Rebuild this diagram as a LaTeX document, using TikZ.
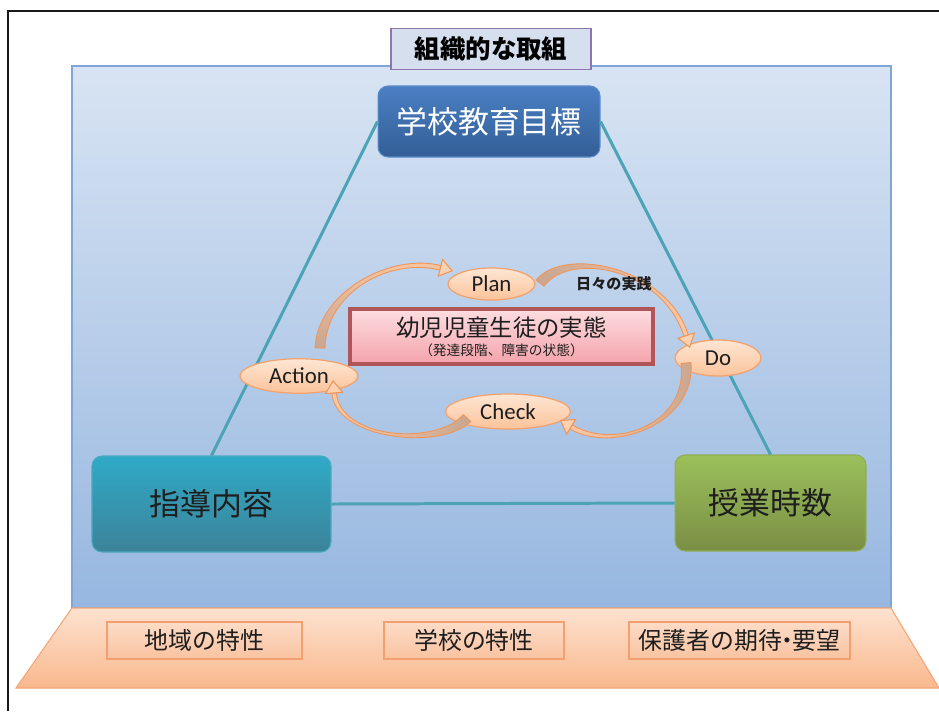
\documentclass[tikz,border=0pt]{standalone}
\usepackage{fontspec}
\setmainfont{Carlito}
\newfontfamily\jp{Noto Sans CJK JP}
\usetikzlibrary{arrows.meta,shapes.geometric,calc}
\definecolor{bgtop}{HTML}{D8E4F3}
\definecolor{bgbot}{HTML}{97B7E0}
\definecolor{bgedge}{HTML}{7FA6D6}
\definecolor{titlefill}{HTML}{D5DFEE}
\definecolor{titleedge}{HTML}{8E75AE}
\definecolor{goaltop}{HTML}{4A80C4}
\definecolor{goalbot}{HTML}{335E96}
\definecolor{goaledge}{HTML}{5A8AC8}
\definecolor{conttop}{HTML}{2FAAC7}
\definecolor{contbot}{HTML}{3C8399}
\definecolor{contedge}{HTML}{4AA9C0}
\definecolor{hourtop}{HTML}{9BC05A}
\definecolor{hourbot}{HTML}{7A8E45}
\definecolor{houredge}{HTML}{8FAE55}
\definecolor{linkcol}{HTML}{4BA3B5}
\definecolor{realedge}{HTML}{B05658}
\definecolor{realtop}{HTML}{FDDDE0}
\definecolor{realbot}{HTML}{F4A3AB}
\definecolor{phasetop}{HTML}{FEE6D4}
\definecolor{phasebot}{HTML}{FBC39A}
\definecolor{phaseedge}{HTML}{F2A26E}
\definecolor{traptop}{HTML}{FDE2D0}
\definecolor{trapbot}{HTML}{F9B88D}
\definecolor{trapedge}{HTML}{F4A676}
\definecolor{baseboxtop}{HTML}{FDDCC7}
\definecolor{baseboxbot}{HTML}{F9C3A0}
\definecolor{baseboxedge}{HTML}{F2A070}
\definecolor{arrowtan}{HTML}{C9A690}
\definecolor{arrowlight}{HTML}{FBC8A3}
\definecolor{arrowedge}{HTML}{F0955A}
\definecolor{arrowhead}{HTML}{FDD2B3}
\definecolor{darktext}{HTML}{1E1E1E}
% #1 start, #2 control 1, #3 control 2, #4 tip, #5 shading options
\newcommand{\cyclearrow}[5]{%
  \coordinate (Eb) at ($(#4)!0.26cm!(#3)$);
  \shade[#5, draw=arrowedge, line width=0.5pt]
    ($(#1)!0.1cm!90:(#2)$) .. controls ($(#2)!0.08cm!-90:(#1)$) and ($(#3)!0.05cm!90:(#4)$) .. ($(Eb)!0.045cm!90:(#4)$)
    -- ($(Eb)!0.045cm!-90:(#4)$) .. controls ($(#3)!0.05cm!-90:(#4)$) and ($(#2)!0.08cm!90:(#1)$) .. ($(#1)!0.1cm!-90:(#2)$) -- cycle;
  \draw[draw=arrowhead, line width=0.3pt,
    -{Triangle[length=0.27cm,width=0.38cm,line width=0.6pt,color=arrowedge,fill=arrowhead]}]
    ($(Eb)!0.1cm!(#4)$) -- (#4);}
\begin{document}
\begin{tikzpicture}[x=0.02cm,y=-0.02cm,
  bigbox/.style={rounded corners=0.2cm, line width=0.6pt, font=\jp\fontsize{17.6pt}{20pt}\selectfont, inner sep=0pt},
  phase/.style={ellipse, draw=phaseedge, line width=0.7pt, top color=phasetop, bottom color=phasebot, inner sep=0pt, text=darktext, font=\fontsize{13pt}{15pt}\selectfont},
  basebox/.style={draw=baseboxedge, line width=0.7pt, top color=baseboxtop, bottom color=baseboxbot, minimum height=0.74cm, inner sep=0pt, text=darktext, font=\jp\fontsize{13.6pt}{16pt}\selectfont},
  link/.style={draw=linkcol, line width=1.7pt},
  frameline/.style={draw=black!90, line width=1.2pt}]
\useasboundingbox (0,0) rectangle (939,711);
\fill[white] (0,0) rectangle (939,711);
% background panel
\shade[top color=bgtop, bottom color=bgbot] (72,66) rectangle (891,608);
\draw[draw=bgedge, line width=0.6pt] (72,66) rectangle (891,608);
% base trapezoid
\shade[top color=traptop, bottom color=trapbot] (72,608) -- (891,608) -- (939,688) -- (16,688) -- cycle;
\draw[draw=trapedge, line width=0.6pt] (72,608) -- (891,608) -- (939,688) -- (16,688) -- cycle;
% frame
\draw[frameline] (8,711) -- (8,11) -- (939,11);
% title
\node[draw=titleedge, fill=titlefill, line width=0.7pt, minimum width=4.0cm, minimum height=0.82cm, inner sep=0pt, font=\jp\bfseries\fontsize{14.5pt}{17pt}\selectfont] (title) at (491,49) {組織的な取組};
% main nodes
\node[bigbox, draw=goaledge, top color=goaltop, bottom color=goalbot, text=white, minimum width=4.44cm, minimum height=1.42cm] (goal) at (489,121.5) {学校教育目標};
\node[bigbox, draw=contedge, top color=conttop, bottom color=contbot, text=darktext, minimum width=4.78cm, minimum height=1.92cm] (content) at (211.5,504) {指導内容};
\node[bigbox, draw=houredge, top color=hourtop, bottom color=hourbot, text=darktext, minimum width=3.82cm, minimum height=1.92cm] (hours) at (770.5,503) {授業時数};
\draw[link] (goal.west) -- (content.north);
\draw[link] (goal.east) -- (hours.north);
\draw[link] (content.east) -- (hours.west);
% central state box
\node[draw=realedge, line width=2.3pt, top color=realtop, bottom color=realbot, minimum width=6.06cm, minimum height=1.1cm, inner sep=0pt, align=center, text=darktext] (state) at (501.5,336.5)
  {{\jp\fontsize{13.3pt}{15pt}\selectfont 幼児児童生徒の実態}\\[-1pt]{\jp\fontsize{7.8pt}{9pt}\selectfont （発達段階、障害の状態）}};
% PDCA phases
\node[phase, minimum width=1.74cm, minimum height=0.64cm] (plan) at (491.5,284) {Plan};
\node[phase, minimum width=1.72cm, minimum height=0.72cm] (do) at (718,358) {Do};
\node[phase, minimum width=2.5cm, minimum height=0.7cm] (check) at (508,411.5) {Check};
\node[phase, minimum width=2.36cm, minimum height=0.69cm] (action) at (299,376) {Action};
% cycle arrows
\coordinate (a1s) at (320,348);
\coordinate (a1e) at (453,271);
\coordinate (a2s) at (540,283);
\coordinate (a2e) at (690,348);
\coordinate (a3s) at (686,363);
\coordinate (a3e) at (560,420);
\coordinate (a4s) at (467,418);
\coordinate (a4e) at (333,380);
\coordinate (a1c1) at (322,292); \coordinate (a1c2) at (390,255);
\coordinate (a2c1) at (568,248); \coordinate (a2c2) at (665,268);
\coordinate (a3c1) at (692,425); \coordinate (a3c2) at (612,452);
\coordinate (a4c1) at (440,448); \coordinate (a4c2) at (338,440);
\cyclearrow{a1s}{a1c1}{a1c2}{a1e}{bottom color=arrowtan, top color=arrowlight}
\cyclearrow{a2s}{a2c1}{a2c2}{a2e}{left color=arrowtan, right color=arrowlight}
\cyclearrow{a3s}{a3c1}{a3c2}{a3e}{right color=arrowtan, left color=arrowlight}
\cyclearrow{a4s}{a4c1}{a4c2}{a4e}{right color=arrowtan, left color=arrowlight}
\node[font=\jp\bfseries\fontsize{8.6pt}{10pt}\selectfont, text=darktext] (daily) at (614,284) {日々の実践};
% base boxes
\node[basebox, minimum width=3.9cm] (region) at (204.5,640.5) {地域の特性};
\node[basebox, minimum width=3.6cm] (school) at (474,640.5) {学校の特性};
\node[basebox, minimum width=4.42cm] (parents) at (739.5,640.5) {保護者の期待\makebox[0.45em]{・}要望};
\end{tikzpicture}
\end{document}
